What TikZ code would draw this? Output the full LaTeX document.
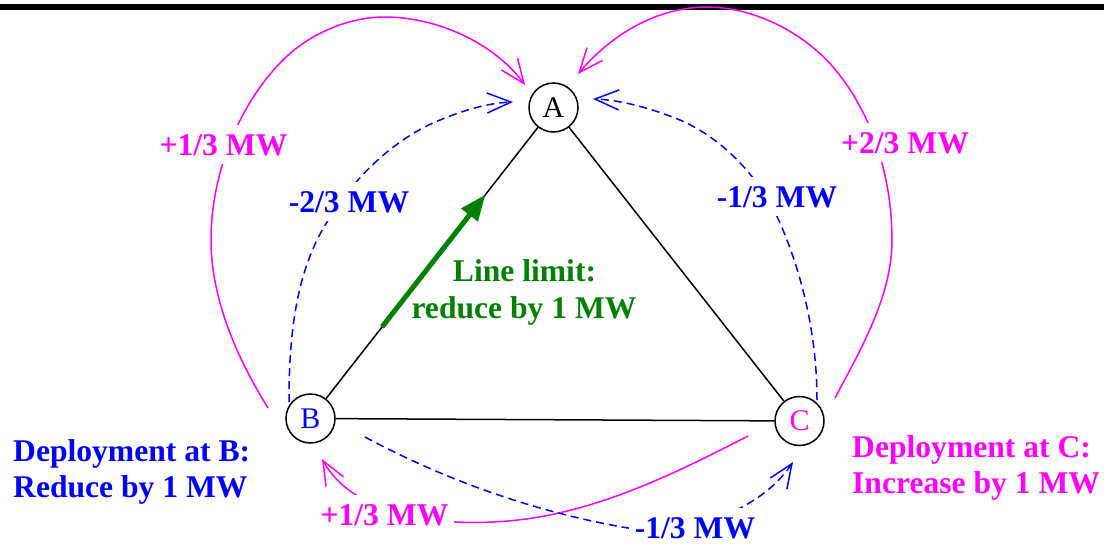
\documentclass[tikz,border=0pt]{standalone}
\usepackage{fontspec}
\setmainfont{Liberation Serif}
\usetikzlibrary{arrows.meta,calc}
\definecolor{dgreen}{RGB}{0,128,0}
\definecolor{mag}{RGB}{255,0,255}
\definecolor{blu}{RGB}{0,0,255}
\begin{document}
\begin{tikzpicture}[x=1pt,y=-1pt,
  stn/.style={draw, circle, line width=1.5pt, minimum size=49pt, inner sep=0pt, font=\fontsize{30}{36}\selectfont},
  lbl/.style={font=\bfseries\fontsize{31.6}{36}\selectfont, anchor=base, inner sep=0pt},
  gaplbl/.style={lbl, fill=white, inner xsep=6pt, inner ysep=9pt},
  flow/.style={line width=1.5pt, -{Straight Barb[length=24pt,width=20pt]}},
  mflow/.style={flow, mag},
  bflow/.style={flow, blu, dash pattern=on 8pt off 5pt},
  edge/.style={line width=1.5pt},
  garrow/.style={dgreen, line width=5pt, -{Triangle[length=26pt,width=20pt]}}
]
\useasboundingbox (0,0) rectangle (1104,544);
\fill (0,4) rectangle (1104,10);

% stations
\node[stn] (A) at (553.5,107.5) {A};
\node[stn, text=blu] (B) at (310.5,418.5) {B};
\node[stn, text=mag] (C) at (799.5,421) {C};

% lines
\draw[edge] (A) -- (B);
\draw[edge] (A) -- (C);
\draw[edge] (B) -- (C);

% green arrow on line A-B
\coordinate (g1) at ($(B)!0.295!(A)$);
\coordinate (g2) at ($(B)!0.72!(A)$);
\draw[garrow] (g1) -- (g2);

% curve end points
\coordinate (m1s) at (268,408);
\coordinate (m1e) at (525,85);
\coordinate (b1s) at (289,402);
\coordinate (b1e) at (513,102);
\coordinate (m2s) at (835,398);
\coordinate (m2e) at (578,74);
\coordinate (b2s) at (817,400);
\coordinate (b2e) at (593,99);
\coordinate (m3s) at (748,436);
\coordinate (m3e) at (322,459);
\coordinate (b3s) at (365,437);
\coordinate (b3e) at (793,462);

% magenta B -> A
\draw[mflow] (m1s) .. controls (237,358) and (211,299) .. (211,240)
  .. controls (211,175) and (238,105) .. (283,60)
  .. controls (309,34) and (348,17) .. (385,17)
  .. controls (437,17) and (494,43) .. (m1e);
% blue B -> A
\draw[bflow] (b1s) .. controls (289,343) and (294,278) .. (324,227)
  .. controls (349,184) and (387,144) .. (433,123)
  .. controls (458,112) and (486,103) .. (b1e);
% magenta C -> A
\draw[mflow] (m2s) .. controls (861,349) and (892,296) .. (892,240)
  .. controls (892,179) and (873,113) .. (833,67)
  .. controls (803,32) and (753,7) .. (707,7)
  .. controls (655,7) and (609,37) .. (m2e);
% blue C -> A
\draw[bflow] (b2s) .. controls (817,340) and (804,278) .. (780,223)
  .. controls (761,179) and (724,139) .. (680,120)
  .. controls (653,109) and (622,100) .. (b2e);
% magenta C -> B
\draw[mflow] (m3s) .. controls (680,471) and (609,506) .. (533,518)
  .. controls (461,529) and (358,523) .. (m3e);
% blue B -> C
\draw[bflow] (b3s) .. controls (445,480) and (533,511) .. (622,527)
  .. controls (682,538) and (759,513) .. (b3e);

% flow labels
\node[gaplbl, text=mag] (l1) at (223.5,155) {+1/3 MW};
\node[gaplbl, text=blu] (l2) at (349,212) {-2/3 MW};
\node[gaplbl, text=blu] (l3) at (777,207) {-1/3 MW};
\node[gaplbl, text=mag] (l4) at (905,153) {+2/3 MW};
\node[gaplbl, text=mag] (l5) at (384.5,525) {+1/3 MW};
\node[gaplbl, text=blu] (l6) at (695,538) {-1/3 MW};

% line limit text
\node[lbl, text=dgreen] (t1) at (524.5,281) {Line limit:};
\node[lbl, text=dgreen] (t2) at (524,318) {reduce by 1 MW};

% deployment texts
\node[lbl, text=blu, anchor=base west] (d1) at (13,461.5) {Deployment at B:};
\node[lbl, text=blu, anchor=base west] (d2) at (13,497) {Reduce by 1 MW};
\node[lbl, text=mag, anchor=base west] (d3) at (852,457) {Deployment at C:};
\node[lbl, text=mag, anchor=base west] (d4) at (852,493) {Increase by 1 MW};
\end{tikzpicture}
\end{document}
